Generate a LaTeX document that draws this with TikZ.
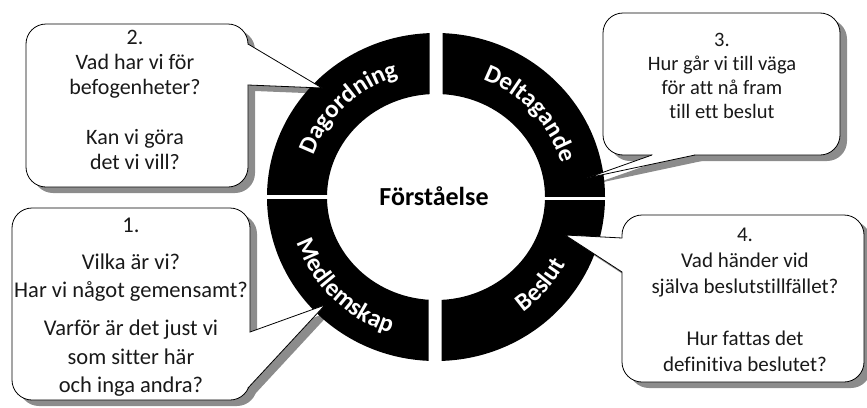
\documentclass[tikz,border=0pt]{standalone}
\usepackage{fontspec}
\setmainfont{Carlito}[Ligatures=NoCommon]
\usetikzlibrary{decorations.text,calc}
\newcommand\myringfont{\bfseries\fontsize{25}{28}\selectfont}
\begin{document}
\begin{tikzpicture}[x=1pt,y=1pt,
  ring/.style={fill=black,even odd rule},
  shadowfill/.style={fill=black!45},
  bubble/.style={fill=white,draw=black,line width=0.8pt,rounded corners=20pt},
  tailfill/.style={fill=white},
  tailline/.style={draw=black,line width=0.8pt,line join=round},
  btext/.style={align=center,inner sep=0pt,text=black!90},
  ringlabel/.style={decorate,decoration={text along path,text align=center,text color=white,text={|\myringfont|#1}}},
]
\useasboundingbox (0,0) rectangle (867,-407);
\coordinate (C) at (436,-197);

% shadows
\begin{scope}[shift={(7,-6)}]
  \fill[shadowfill,rounded corners=20pt] (26,-24) rectangle (248,-187);
  \fill[shadowfill] (248,-44) -- (322,-88) -- (248,-85) -- cycle;
  \fill[shadowfill,rounded corners=20pt] (12,-208) rectangle (250,-400);
  \fill[shadowfill] (250,-332) -- (325,-305) -- (248,-388) -- cycle;
  \fill[shadowfill,rounded corners=20pt] (603,-13) rectangle (840,-155);
  \fill[shadowfill] (652,-155) -- (587,-178) -- (695,-155) -- cycle;
  \fill[shadowfill,rounded corners=20pt] (622,-215) rectangle (864,-382);
  \fill[shadowfill] (622,-238) -- (565,-235) -- (622,-272) -- cycle;
\end{scope}

% ring quadrants
\begin{scope}
  \clip (0,-194.5) rectangle (429.5,0);
  \fill[ring] (C) ellipse[x radius=169,y radius=164] (C) ellipse[x radius=109,y radius=103];
\end{scope}
\begin{scope}
  \clip (442.5,-196.5) rectangle (867,0);
  \fill[ring] (C) ellipse[x radius=169,y radius=164] (C) ellipse[x radius=109,y radius=103];
\end{scope}
\begin{scope}
  \clip (0,-199.5) rectangle (428.5,-407);
  \fill[ring] (C) ellipse[x radius=169,y radius=164] (C) ellipse[x radius=109,y radius=103];
\end{scope}
\begin{scope}
  \clip (441.5,-200.5) rectangle (867,-407);
  \fill[ring] (C) ellipse[x radius=169,y radius=164] (C) ellipse[x radius=109,y radius=103];
\end{scope}

% ring labels
\path[ringlabel=Dagordning] ($(C)+(180:130 and 126)$) arc[start angle=180,end angle=88,x radius=130,y radius=126];
\path[ringlabel=Deltagande] ($(C)+(87:130 and 126)$) arc[start angle=87,end angle=-3,x radius=130,y radius=126];
\path[ringlabel=Medlemskap] ($(C)+(180:147 and 143)$) arc[start angle=180,end angle=270,x radius=147,y radius=143];
\path[ringlabel=Beslut] ($(C)+(-86:147 and 143)$) arc[start angle=-86,end angle=5,x radius=147,y radius=143];

\node[font=\bfseries\fontsize{26}{30}\selectfont,inner sep=0pt] (center) at (434,-196) {Förståelse};

% bubble 2
\draw[bubble] (26,-24) rectangle (248,-187);
\fill[tailfill] (248,-44) -- (322,-88) -- (248,-85) -- (232,-64) -- cycle;
\draw[tailline] (248,-44) -- (322,-88) -- (248,-85);
\node[btext,font=\fontsize{22}{25}\selectfont] (t2) at (135,-99.8) {2.\\Vad har vi för\\befogenheter?\\[25pt]Kan vi göra\\det vi vill?};

% bubble 1
\draw[bubble] (12,-208) rectangle (250,-400);
\fill[tailfill] (250,-332) -- (325,-305) -- (248,-388) -- (232,-360) -- cycle;
\draw[tailline] (250,-332) -- (325,-305) -- (248,-388);
\node[btext,font=\fontsize{22.5}{28.5}\selectfont] (t1) at (131,-307) {1.\\[8.5pt]Vilka är vi?\\Har vi något gemensamt?\\[9.5pt]Varför är det just vi\\som sitter här\\och inga andra?};

% bubble 3
\draw[bubble] (603,-13) rectangle (840,-155);
\fill[tailfill] (652,-155) -- (587,-178) -- (695,-155) -- (675,-140) -- cycle;
\draw[tailline] (652,-155) -- (587,-178) -- (695,-155);
\node[btext,font=\fontsize{20.5}{24}\selectfont] (t3) at (722,-76) {3.\\Hur går vi till väga\\för att nå fram\\till ett beslut};

% bubble 4
\draw[bubble] (622,-215) rectangle (864,-382);
\fill[tailfill] (622,-238) -- (565,-235) -- (622,-272) -- (640,-255) -- cycle;
\draw[tailline] (622,-238) -- (565,-235) -- (622,-272);
\node[btext,font=\fontsize{21}{26}\selectfont] (t4) at (745,-300) {4.\\Vad händer vid\\själva beslutstillfället?\\[26pt]Hur fattas det\\definitiva beslutet?};
\end{tikzpicture}
\end{document}
